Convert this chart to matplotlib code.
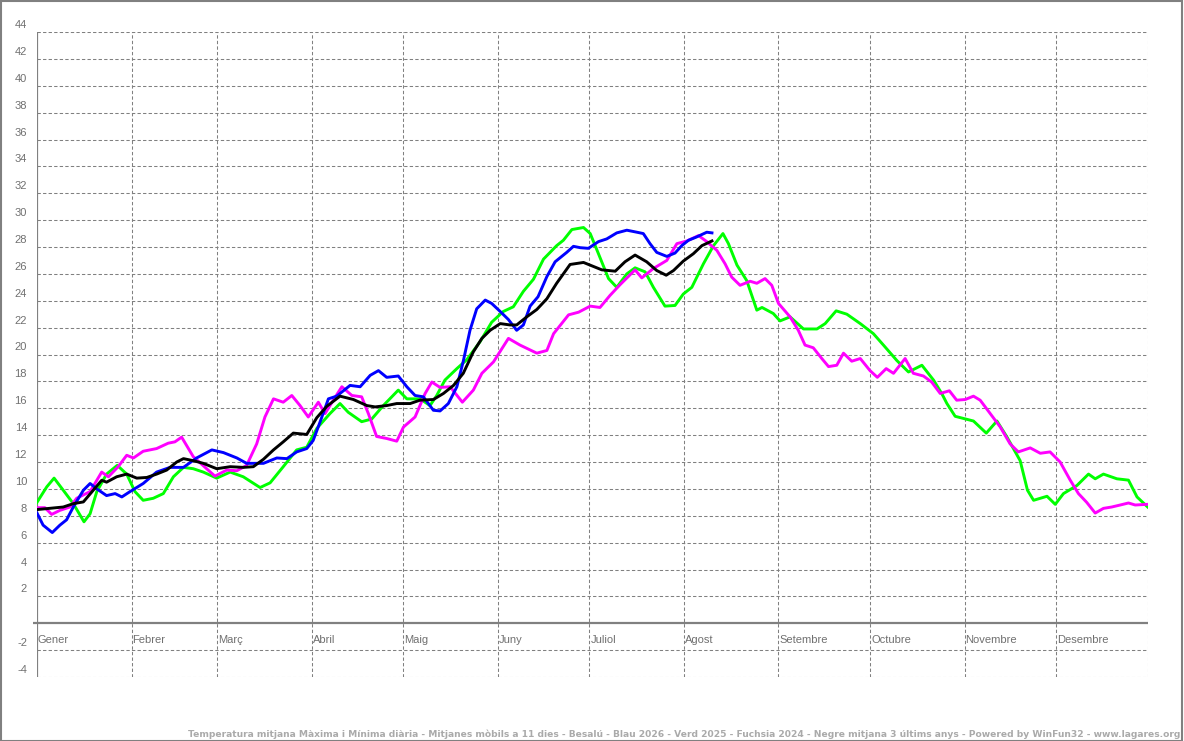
import matplotlib
matplotlib.use("Agg")
import matplotlib.pyplot as plt
import matplotlib.transforms as mtransforms
from matplotlib.patches import Rectangle

plt.rcParams['lines.scale_dashes'] = False

# ---------------- data (day of year, value) ----------------
months = ["Gener", "Febrer", "Març", "Abril", "Maig", "Juny", "Juliol",
          "Agost", "Setembre", "Octubre", "Novembre", "Desembre"]
month_days = [0, 31, 59, 90, 120, 151, 181, 212, 243, 273, 304, 334]
last_day = 364

y_ticks = [44, 42, 40, 38, 36, 34, 32, 30, 28, 26, 24, 22, 20, 18, 16, 14,
           12, 10, 8, 6, 4, 2, -2, -4]

blue_days = [0, 2, 5, 7.5, 9.7, 11.9, 15.2, 17.4, 19.6, 22.8, 25.6, 27.8, 30.5,
             34.8, 39.2, 43.6, 48, 52.3, 57.3, 61.1, 65.5, 68.7, 74.2, 78.6,
             81.9, 85.1, 88.4, 90.5, 92.8, 95.5, 98.2, 102.6, 105.9, 109.2,
             111.9, 114.6, 118.4, 121.2, 123.9, 126.6, 129.9, 132.1, 134.8,
             137.6, 139.7, 141.9, 144.1, 146.9, 149, 151.8, 154.5, 157.2,
             159.4, 161.6, 164.2, 167.1, 169.8, 173.6, 175.8, 178, 180.7, 184,
             186.7, 190, 193.3, 196.6, 198.7, 200.9, 203.1, 206.4, 209.1,
             211.3, 213.5, 216.2, 219.5, 221.2]
blue_vals = [8.2, 7.3, 6.75, 7.3, 7.7, 8.65, 9.9, 10.4, 10.0, 9.5, 9.65, 9.4, 9.8,
             10.4, 11.25, 11.6, 11.6, 12.3, 12.9, 12.7, 12.3, 11.9, 11.9, 12.3,
             12.25, 12.75, 13.0, 13.6, 15.0, 16.7, 16.9, 17.7, 17.6, 18.45,
             18.8, 18.3, 18.4, 17.6, 16.95, 16.85, 15.85, 15.8, 16.35,
             17.6, 19.5, 21.8, 23.4, 24.05, 23.8, 23.2, 22.6, 21.8,
             22.2, 23.6, 24.3, 25.8, 26.9, 27.6, 28.05, 27.95, 27.9, 28.4,
             28.6, 29.05, 29.25, 29.1, 29.0, 28.25, 27.6, 27.3, 27.55,
             28.1, 28.5, 28.75, 29.1, 29.05]

black_days = [0, 8.6, 11.9, 15.2, 21.2, 22.8, 26.1, 29.4, 32.7, 36, 39.2, 42.5,
              45.8, 48, 51.2, 54.5, 58.9, 63.3, 67.6, 70.9, 74.2, 77.5, 80.7,
              84, 88.4, 91.7, 95, 99.3, 103.7, 108.1, 110.8, 114.6, 117.9,
              122.3, 125.5, 129.9, 133.2, 136.5, 139.7, 143, 145.8, 148.5,
              151.8, 155, 157.2, 160.5, 163.8, 167.1, 170.3, 174.7, 179.1,
              185.1, 189.5, 192.7, 196, 199.8, 203.1, 206.2, 208.6, 211.8,
              215.1, 217.9, 221.2]
black_vals = [8.46, 8.65, 8.9, 9.03, 10.64, 10.5, 10.9, 11.1, 10.8, 10.85, 11.1, 11.4,
              12.0, 12.25, 12.1, 11.9, 11.5, 11.65, 11.6, 11.65, 12.2, 12.9, 13.5,
              14.15, 14.05, 15.3, 16.15, 16.9, 16.65, 16.2, 16.1, 16.2, 16.35,
              16.35, 16.6, 16.65, 17.1, 17.7, 18.6, 20.2, 21.2, 21.8,
              22.3, 22.2, 22.2, 22.8, 23.35, 24.15, 25.3, 26.7, 26.85,
              26.3, 26.2, 26.9, 27.4, 26.9, 26.25, 25.9, 26.25, 26.95,
              27.5, 28.1, 28.45]

green_days = [0, 3.2, 5.6, 8.6, 11.9, 15.4, 17.4, 19.6, 22.8, 26.3, 29.4, 32.1,
              34.8, 38.1, 41.4, 44.7, 48, 51.2, 54.5, 58.9, 63.3, 67.6, 73.1,
              76.4, 80.7, 85.1, 88.4, 91.7, 96, 99.3, 102, 106.4, 109.7, 113.5,
              118.4, 121.2, 125.5, 128.8, 131, 133.7, 137.6, 140.8, 145.2, 149,
              152.8, 156.1, 159.4, 162.7, 166, 170.3, 172.5, 175.3, 179.1,
              181.3, 184, 187.3, 190, 193.3, 196, 199.3, 202, 205.8, 209.1,
              211.8, 214.6, 218.4, 221.7, 224.8, 226.6, 229.4, 232.6, 235.9,
              237.6, 241.3, 243.5, 246.8, 251.2, 255.6, 258.3, 261.9, 265.4,
              269.8, 274.1, 277.4, 281.8, 285.6, 290, 293.8, 296.5, 298.2,
              300.9, 306.9, 311.1, 314.6, 317.9, 322.2, 324.6, 326.6, 331,
              333.7, 336.4, 340.8, 344.6, 346.8, 349.5, 353.9, 357.7, 360.5, 364]
green_vals = [9.0, 10.15, 10.8, 9.9, 8.9, 7.55, 8.15, 9.8, 11.1, 11.75, 11.1, 9.8,
              9.15, 9.3, 9.65, 10.9, 11.6, 11.5, 11.25, 10.8, 11.25, 10.9, 10.1,
              10.45, 11.65, 12.9, 13.1, 14.5, 15.6, 16.35, 15.7, 15.0, 15.2, 16.2,
              17.35, 16.7, 16.7, 16.2, 16.95, 18.1, 18.95, 19.6, 20.95, 22.4,
              23.2, 23.55, 24.7, 25.6, 27.1, 28.1, 28.5, 29.3, 29.45,
              29.0, 27.5, 25.65, 25.0, 26.0, 26.45, 26.15, 25.0, 23.6, 23.65,
              24.5, 25.0, 26.75, 28.1, 29.0, 28.25, 26.65, 25.5, 23.3,
              23.5, 23.05, 22.5, 22.8, 21.9, 21.9, 22.3, 23.25, 23.0,
              22.3, 21.55, 20.7, 19.55, 18.7, 19.2, 18.1, 17.1, 16.35,
              15.4, 15.05, 14.15, 15.05, 13.85, 12.1, 9.9, 9.15, 9.45,
              8.85, 9.65, 10.25, 11.1, 10.75, 11.1, 10.75, 10.65, 9.4, 8.65]

magenta_days = [0, 2.6, 4.8, 7.5, 10.8, 13, 17.4, 21.2, 23.4, 26.6, 29.4, 31.6,
                34.8, 39.2, 43, 45.2, 47.4, 51.2, 55.1, 58.3, 62.2, 65.5, 68.7,
                72, 74.7, 77.5, 80.7, 83.5, 86.2, 88.9, 92.2, 94.4, 97.1, 99.9,
                103.2, 106.4, 108.6, 111.3, 114.6, 117.9, 120.1, 123.9, 127.2,
                129.4, 132.1, 135.4, 139.4, 143, 145.8, 149.6, 154.5, 158.3,
                163.8, 167.1, 169.3, 174.2, 177.5, 181.3, 184.5, 187.8, 191.1,
                196, 198.2, 202, 206.4, 209.7, 213, 216.8, 219.5, 222.8, 225.5,
                227.7, 230.4, 233.7, 235.9, 238.6, 240.8, 243, 246.8, 249.5,
                251.7, 254.4, 257.2, 259.4, 262.1, 264.3, 267, 269.8, 273,
                275.4, 278.3, 280.7, 284.5, 287.2, 290.5, 293.2, 296, 299,
                301.4, 304.2, 306.9, 309.1, 312.4, 315.7, 318.9, 321.6, 325.5,
                328.8, 332, 335.3, 338.6, 341.3, 344, 346.8, 349.5, 352.2, 355,
                357.7, 359.9, 364]
magenta_vals = [8.6, 8.6, 8.1, 8.4, 8.65, 9.3, 9.8, 11.25, 10.9, 11.65, 12.5, 12.3,
                12.8, 13.0, 13.4, 13.5, 13.85, 12.4, 11.6, 10.95, 11.4, 11.35, 11.75,
                13.35, 15.35, 16.7, 16.45, 16.95, 16.2, 15.35, 16.45, 15.6, 16.6, 17.6,
                16.95, 16.85, 15.6, 13.9, 13.75, 13.55, 14.6, 15.35, 17.1,
                17.95, 17.55, 17.6, 16.45, 17.35, 18.6, 19.45, 21.2, 20.7,
                20.1, 20.3, 21.55, 22.95, 23.15, 23.6, 23.5, 24.4, 25.2,
                26.3, 25.7, 26.4, 27.0, 28.25, 28.45, 28.85, 28.4, 27.75, 26.75,
                25.75, 25.15, 25.45, 25.3, 25.65, 25.15, 23.8, 22.8, 21.8,
                20.7, 20.5, 19.7, 19.1, 19.2, 20.1, 19.5, 19.7, 18.8,
                18.3, 18.95, 18.6, 19.7, 18.6, 18.4, 17.95, 17.1, 17.3,
                16.6, 16.65, 16.9, 16.6, 15.6, 14.6, 13.35, 12.75, 13.05,
                12.65, 12.75, 12.0, 10.65, 9.65, 9.0, 8.2, 8.55, 8.65, 8.8,
                8.95, 8.8, 8.85]

footer = ("Temperatura mitjana Màxima i Mínima diària - Mitjanes mòbils a 11 dies - "
          "Besalú - Blau 2026 - Verd 2025 - Fuchsia 2024 - Negre mitjana 3 últims anys - "
          "Powered by WinFun32 - www.lagares.org")

# ---------------- figure ----------------
W, H = 1184, 741
fig = plt.figure(figsize=(W / 100, H / 100), dpi=100)
fig.patch.set_facecolor("white")

left_px, right_px, top_px, bot_px = 37, 1147.7, 32, 677
ax = fig.add_axes([left_px / W, 1 - bot_px / H, (right_px - left_px) / W,
                   (bot_px - top_px) / H])
ax.set_xlim(0, last_day)
ax.set_ylim(-4, 44)
for s in ax.spines.values():
    s.set_visible(False)
ax.set_xticks([])
ax.set_yticks([])

grid_col = "#808080"
dash = (0, (2.4, 1.6))
for v in range(-4, 45, 2):
    if v == 0:
        continue
    ax.axhline(v, color=grid_col, lw=0.75, ls=dash, zorder=1)
for d in month_days[1:] + [last_day]:
    ax.axvline(d, color=grid_col, lw=0.75, ls=dash, zorder=1)

blend = mtransforms.blended_transform_factory(ax.transAxes, ax.transData)
# zero line and left axis
ax.plot([-4 / 1110.7, 1], [0, 0], color=grid_col, lw=1.6, transform=blend,
        clip_on=False, zorder=2, solid_capstyle='butt')
ax.axvline(0, color=grid_col, lw=1.6, zorder=2)

# series
lw = 2.1
ax.plot(green_days, green_vals, color="#00ff00", lw=lw, zorder=3,
        solid_joinstyle='round')
ax.plot(magenta_days, magenta_vals, color="#ff00ff", lw=lw, zorder=4,
        solid_joinstyle='round')
ax.plot(blue_days, blue_vals, color="#0000ff", lw=lw, zorder=5,
        solid_joinstyle='round')
ax.plot(black_days, black_vals, color="#000000", lw=lw, zorder=6,
        solid_joinstyle='round')

font = "Liberation Sans"
lab_col = "#707070"
ytr = mtransforms.offset_copy(blend, fig=fig, x=0, y=7, units='dots')
for v in y_ticks:
    ax.text(-10 / 1110.7, v, str(v), transform=ytr, ha='right', va='center',
            fontsize=8, color=lab_col, family=font)

mtr = mtransforms.offset_copy(ax.transData, fig=fig, x=1, y=-12, units='dots')
for name, d in zip(months, month_days):
    ax.text(d, 0, name, transform=mtr, ha='left', va='top', fontsize=8,
            color=lab_col, family=font)

# footer
ft = fig.text(1180 / W, 1 - 737 / H, footer, ha='right', va='baseline',
              fontsize=7, weight='bold', color="#aaaaaa", family="DejaVu Sans")
fig.canvas.draw()
bb = ft.get_window_extent()
ft.set_fontsize(7 * (1180 - 185) / bb.width)

# outer frame
fig.patches.append(Rectangle((0.5 / W, 0.5 / H), (W - 2.5) / W, (H - 1.5) / H,
                             transform=fig.transFigure, fill=False,
                             edgecolor="#808080", lw=1.5))

fig.savefig("out.png", dpi=100, facecolor="white")
